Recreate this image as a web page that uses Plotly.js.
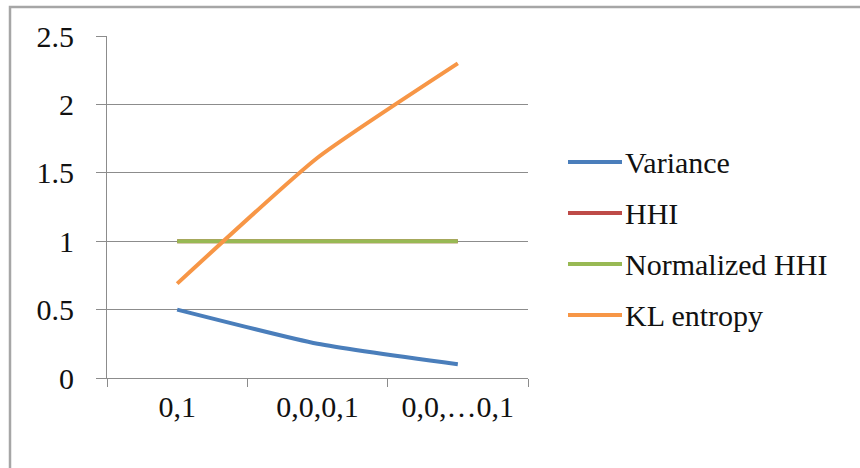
<!DOCTYPE html>
<html>
<head>
<meta charset="utf-8">
<script src="https://cdn.plot.ly/plotly-3.0.1.min.js"></script>
<style>
  html, body { margin: 0; padding: 0; background: #ffffff; }
  #chart { width: 860px; height: 468px; }
</style>
</head>
<body>
<div id="chart"></div>
<script>
// Categories: the distributions being compared
const categories = ["0,1", "0,0,0,1", "0,0,\u20260,1"];

// Series values
const variance = [0.5, 0.25, 0.1];
const hhi = [1, 1, 1];
const normalizedHhi = [1, 1, 1];
const klEntropy = [0.69, 1.61, 2.3];

const seriesNames = ["Variance", "HHI", "Normalized HHI", "KL entropy"];
const seriesColors = ["#4A7EBB", "#BE4B48", "#98B954", "#F79646"];
const seriesValues = [variance, hhi, normalizedHhi, klEntropy];

// Y axis tick values and labels
const yTickVals = [0, 0.5, 1, 1.5, 2, 2.5];
const yTickText = ["0", "0.5", "1", "1.5", "2", "2.5"];

const FONT = "Liberation Serif, Times New Roman, serif";
const FONT_SIZE = 30;
const GRID = "#8c8c8c";

const traces = seriesValues.map((vals, i) => ({
  type: "scatter",
  mode: "lines",
  x: categories,
  y: vals,
  name: seriesNames[i],
  line: { color: seriesColors[i], width: 4, shape: "spline", smoothing: 0.5 },
  showlegend: false,
  hoverinfo: "skip"
}));

// Plot area geometry in pixels (used to place the frame and the legend)
const W = 860, H = 468;
const L = 107, R = 528, T = 36, B = 378;
const px = x => (x - L) / (R - L);
const py = y => (B - y) / (B - T);

const shapes = [
  // outer frame: left and top edges
  {
    type: "path", xref: "paper", yref: "paper",
    path: `M ${px(10)} ${py(470)} L ${px(10)} ${py(7)} L ${px(862)} ${py(7)}`,
    line: { color: "#a6a6a6", width: 2.5 }
  }
];
const annotations = [];

// Legend: short coloured line followed by the series name
const legendRows = [162, 213, 264, 315];
seriesNames.forEach((name, i) => {
  shapes.push({
    type: "line", xref: "paper", yref: "paper",
    x0: px(568), x1: px(622), y0: py(legendRows[i]), y1: py(legendRows[i]),
    line: { color: seriesColors[i], width: 4 }
  });
  annotations.push({
    xref: "paper", yref: "paper",
    x: px(623), y: py(legendRows[i]),
    xanchor: "left", yanchor: "middle",
    text: name, showarrow: false,
    font: { family: FONT, size: FONT_SIZE, color: "#111111" }
  });
});

const layout = {
  width: W, height: H,
  margin: { l: L, r: W - R, t: T, b: H - B, pad: 0 },
  paper_bgcolor: "#ffffff",
  plot_bgcolor: "#ffffff",
  font: { family: FONT, size: FONT_SIZE, color: "#111111" },
  xaxis: {
    type: "category",
    range: [-0.5, 2.5],
    showgrid: false,
    zeroline: false,
    showline: true,
    linecolor: GRID,
    linewidth: 1,
    ticks: "outside",
    tickson: "boundaries",
    ticklen: 8,
    tickcolor: GRID,
    tickwidth: 1,
    ticklabelstandoff: 2,
    tickfont: { family: FONT, size: FONT_SIZE, color: "#111111" },
    fixedrange: true
  },
  yaxis: {
    range: [0, 2.5],
    tickvals: yTickVals,
    ticktext: yTickText,
    showgrid: true,
    gridcolor: GRID,
    gridwidth: 1,
    zeroline: false,
    showline: true,
    linecolor: GRID,
    linewidth: 1,
    ticks: "outside",
    ticklen: 10,
    tickcolor: GRID,
    tickwidth: 1,
    ticklabelstandoff: 16,
    tickfont: { family: FONT, size: FONT_SIZE, color: "#111111" },
    fixedrange: true
  },
  shapes: shapes,
  annotations: annotations
};

Plotly.newPlot("chart", traces, layout, { displayModeBar: false, staticPlot: true });
</script>
</body>
</html>
